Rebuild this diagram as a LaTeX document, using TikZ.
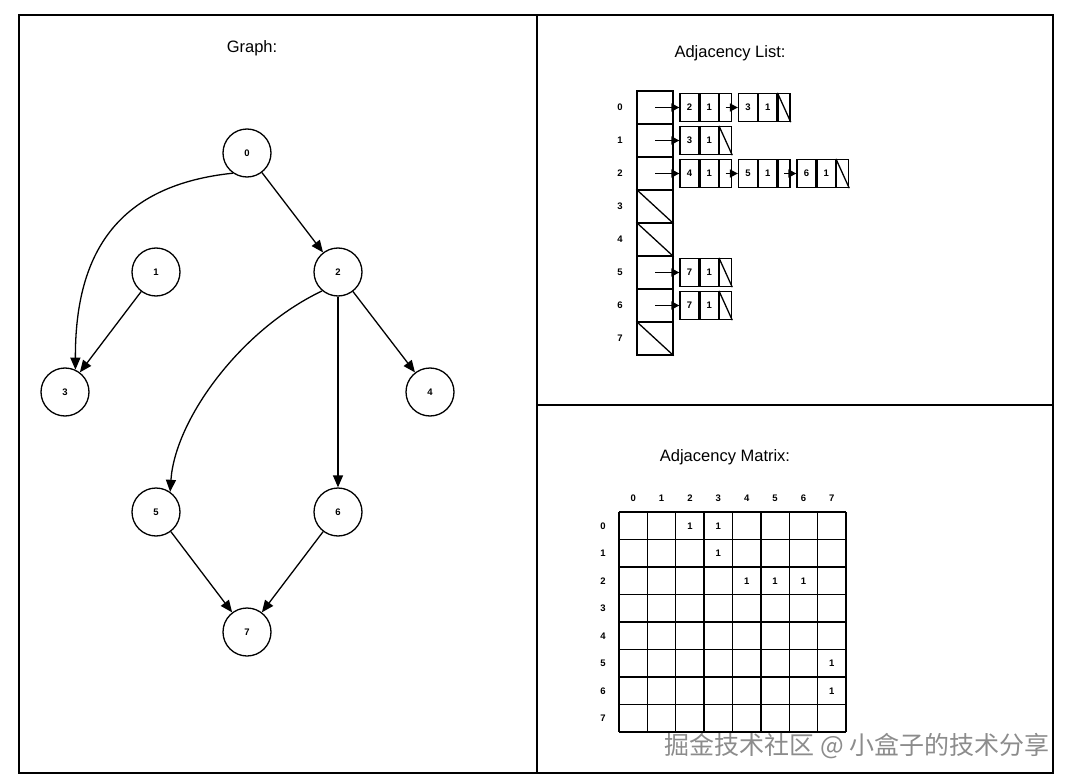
\documentclass[tikz,border=0pt]{standalone}
\usepackage{fontspec}
\setmainfont{Liberation Sans}
\newfontfamily\cjk{Noto Sans CJK SC}
\usetikzlibrary{arrows.meta}

\begin{document}
\begin{tikzpicture}[x=1pt, y=-1pt, line width=1.3pt,
  every node/.style={font=\bfseries\fontsize{9.5}{11}\selectfont, inner sep=0pt},
  title/.style={font=\fontsize{16.5}{18}\selectfont},
  vertex/.style={circle, draw, minimum size=48pt},
  edge/.style={-{Triangle[length=12pt,width=10pt]}},
  ptr/.style={-{Triangle[length=8pt,width=8pt]}, line width=1.6pt},
  idxcell/.style={draw, minimum width=36pt, minimum height=33pt},
  valcell/.style={draw, minimum width=19pt, minimum height=28pt},
  wtcell/.style={draw, minimum width=18pt, minimum height=28pt},
  nxtcell/.style={draw, minimum width=12pt, minimum height=28pt}]
  \useasboundingbox (0,0) rectangle (1072,784);
  % Frame
  \draw (19,15) rectangle (1053,773);
  \draw (537,15) -- (537,773);
  \draw (537,405) -- (1053,405);
  % Titles
  \node[title] (tg) at (252,48) {Graph:};
  \node[title] (tl) at (730,53) {Adjacency List:};
  \node[title] (tm) at (725,457) {Adjacency Matrix:};
  % Graph
  \foreach \n/\x/\y in {0/247/153, 1/156/272, 2/338/272, 3/65/392,
                        4/430/392, 5/156/512, 6/338/512, 7/247/632}
    \node[vertex] (n\n) at (\x,\y) {\n};
  \foreach \a/\b in {0/2, 1/3, 2/4, 2/6, 5/7, 6/7}
    \draw[edge] (n\a) -- (n\b);
  \draw[edge] (n0.235) .. controls (120,185) and (75,250) .. (n3.65);
  \draw[edge] (n2.230) .. controls (240,330) and (175,420) .. (n5.55);
  % Adjacency list: index column
  \foreach \r in {0,...,7} {
    \node[idxcell] (i\r) at (655,107.5+33*\r) {};
    \node (il\r) at (620,107.5+33*\r) {\r};
  }
  % Adjacency list: entries (row/position/value/source)
  \foreach \r/\p/\v/\src in {0/0/2/i0, 0/1/3/x00, 1/0/3/i1, 2/0/4/i2,
                             2/1/5/x20, 2/2/6/x21, 5/0/7/i5, 6/0/7/i6} {
    \node[valcell] (v\r\p) at (689.5+58.5*\p,107.5+33*\r) {\v};
    \node[wtcell, anchor=west] (w\r\p) at (v\r\p.east) {1};
    \node[nxtcell, anchor=west] (x\r\p) at (w\r\p.east) {};
    \draw[ptr] (\src.center) -- (v\r\p.west);
  }
  % Null pointers
  \foreach \c in {x01, x10, x22, x50, x60, i3, i4, i7}
    \draw (\c.north west) -- (\c.south east);
  % Adjacency matrix
  \foreach \k in {0,...,8} {
    \draw (619+28.375*\k,512) -- (619+28.375*\k,732);
    \draw (619,512+27.5*\k) -- (846,512+27.5*\k);
  }
  \foreach \k in {0,...,7} {
    \node (mc\k) at (633.2+28.375*\k,498) {\k};
    \node (mr\k) at (603,525.75+27.5*\k) {\k};
  }
  \foreach \i/\j in {0/2, 0/3, 1/3, 2/4, 2/5, 2/6, 5/7, 6/7}
    \node (m\i\j) at (633.2+28.375*\j,525.75+27.5*\i) {1};
  % Watermark
  \node[font=\cjk\fontsize{25}{27}\selectfont, text=gray!90, anchor=east] (wm)
    at (1050,746) {掘金技术社区 @ 小盒子的技术分享};
\end{tikzpicture}
\end{document}
